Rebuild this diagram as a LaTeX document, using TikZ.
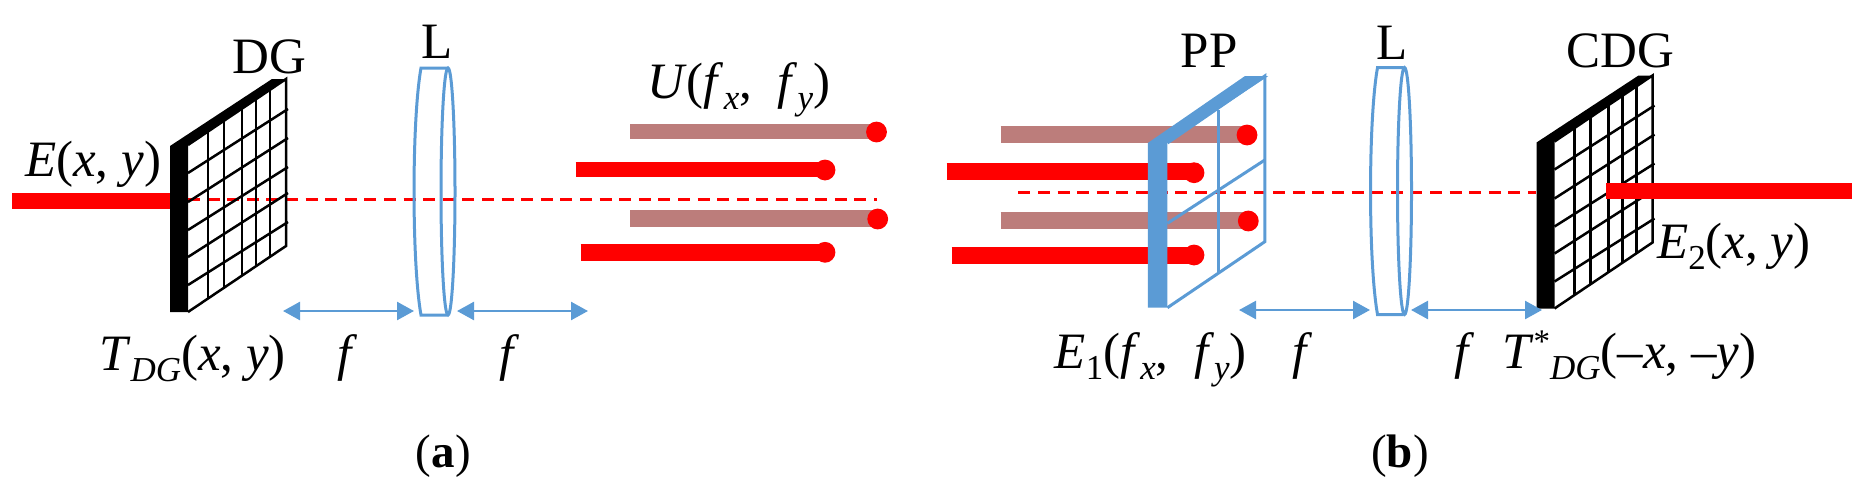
\documentclass[tikz,border=0pt]{standalone}
\usepackage{fontspec}
\setmainfont{Liberation Serif}
\usetikzlibrary{arrows.meta}
\usetikzlibrary{positioning}
\definecolor{lensblue}{HTML}{5B9BD5}
\definecolor{beamred}{HTML}{FF0000}
\definecolor{beambrown}{HTML}{BC7D7B}
\tikzset{
    lbl/.style={inner sep=0pt, anchor=base west, font=\fontsize{51}{60}\selectfont},
    caplbl/.style={inner sep=0pt, anchor=base west, font=\fontsize{47}{56}\selectfont},
    beam/.style={beamred, line width=16pt},
    ghostbeam/.style={beambrown, line width=16pt},
    axisline/.style={beamred, line width=2.5pt, dash pattern=on 12pt off 7.6pt},
    lensline/.style={lensblue, line width=3pt},
    gridline/.style={black, line width=2.5pt},
    fspan/.style={lensblue, line width=2.5pt, {Triangle[length=17pt,width=18pt]}-{Triangle[length=17pt,width=18pt]}},
}
\newcommand{\lowidx}[1]{\raisebox{-11pt}{\fontsize{35}{38}\selectfont #1}}
\newcommand{\lensbody}{%
    \draw[lensline] (447,68) -- (421,68) .. controls (411.7,120) and (411.7,263) .. (421,315) -- (447,315);
    \draw[lensline] (448,191.5) ellipse [x radius=7, y radius=123.5];
}
\newcommand{\gratingbody}{%
    \fill[black] (170,146) -- (272,79) -- (286,79) -- (188,145) -- (188,312) -- (170,312) -- cycle;
    \draw[gridline] (188,145) -- (286,79) -- (286,246) -- (188,312);
    \foreach \vx in {208,224,242,256,270} {
        \draw[gridline] (\vx,{145-(\vx-188)*0.663}) -- (\vx,{312-(\vx-188)*0.673});
    }
    \foreach \hl/\hr in {173/109,202/138,230/167,257/193,285/222} {
        \draw[gridline] (188,\hl) -- (288,\hr);
    }
}
\begin{document}
\begin{tikzpicture}[x=1pt, y=-1pt]
    \useasboundingbox (0,0) rectangle (1862,485);
    % panel a
    \draw[beam] (12,201) -- (170,201);
    \draw[axisline] (188,199.5) -- (876.5,199.5);
    \gratingbody
    \lensbody
    \draw[ghostbeam, line width=15pt] (630,131.7) -- (876,131.7);
    \fill[beamred] (876.5,132) circle (10.4);
    \draw[beam, line width=15.5pt] (575.6,169.3) -- (825,169.3);
    \fill[beamred] (825,170) circle (10.4);
    \draw[ghostbeam, line width=17pt] (630,218.7) -- (877,218.7);
    \fill[beamred] (877.7,219) circle (10.4);
    \draw[beam, line width=17pt] (580.7,252.3) -- (825,252.3);
    \fill[beamred] (825,252.3) circle (10.4);
    \coordinate (fa1) at (283,311);
    \coordinate (fa2) at (414,311);
    \coordinate (fa3) at (457,311);
    \coordinate (fa4) at (588,311);
    \draw[fspan] (fa1) -- (fa2);
    \draw[fspan] (fa3) -- (fa4);
    \node[lbl] (dgname) at (232,73) {DG};
    \node[lbl] (lensa) at (421,58) {L};
    \node[lbl] (einput) at (25,176) {\textit{E}(\textit{x}, \textit{y})};
    \node[lbl] (uspec) at (647,98) {\textit{U}(\textit{f}\lowidx{\textit{x}},\ \ \textit{f}\lowidx{\textit{y}})};
    \node[lbl] (tdg) at (99,370) {\textit{T}\lowidx{\textit{DG}}(\textit{x}, \textit{y})};
    \node[lbl] (fa) at (337,370) {\textit{f}};
    \node[lbl] (fb) at (499,370) {\textit{f}};
    \node[caplbl] (capa) at (415.7,467) {(\textbf{a})};
    % panel b
    \draw[ghostbeam, line width=16.7pt] (1000.6,134.3) -- (1247,134.3);
    \draw[beam, line width=16.7pt] (946.5,171.7) -- (1194,171.7);
    \fill[beamred] (1194,172.7) circle (10.4);
    \draw[ghostbeam, line width=16.7pt] (1000.6,220.7) -- (1248,220.7);
    \draw[beam, line width=17pt] (951.6,255) -- (1194,255);
    \fill[beamred] (1194,255) circle (10.4);
    \draw[axisline] (1018.4,192.7) -- (1536,192.7);
    \fill[beamred] (1247,135) circle (10.4);
    \fill[beamred] (1248.3,221) circle (10.4);
    \fill[lensblue] (1147.8,143) -- (1245,76) -- (1268.3,76) -- (1167.4,143) -- (1167.4,307.7) -- (1147.8,307.7) -- cycle;
    \draw[lensline] (1167.4,143) -- (1264.8,76) -- (1264.8,241.7) -- (1167.4,307.7);
    \draw[lensline] (1218.4,110) -- (1218.4,272);
    \draw[lensline] (1167.4,223.3) -- (1264.8,160);
    \begin{scope}[shift={(956.5,-0.5)}]
        \lensbody
    \end{scope}
    \begin{scope}[shift={(1366.5,-3.5)}]
        \gratingbody
    \end{scope}
    \draw[beam] (1606,191) -- (1852,191);
    \coordinate (fb1) at (1239,310);
    \coordinate (fb2) at (1370,310);
    \coordinate (fb3) at (1411,310);
    \coordinate (fb4) at (1542,310);
    \draw[fspan] (fb1) -- (fb2);
    \draw[fspan] (fb3) -- (fb4);
    \node[lbl] (ppname) at (1180.5,67) {PP};
    \node[lbl] (lensb) at (1376,59) {L};
    \node[lbl] (cdgname) at (1566,67) {CDG};
    \node[lbl] (etwo) at (1657,258) {\textit{E}\lowidx{2}(\textit{x}, \textit{y})};
    \node[lbl] (eone) at (1054.5,368) {\textit{E}\lowidx{1}(\textit{f}\lowidx{\textit{x}},\ \ \textit{f}\lowidx{\textit{y}})};
    \node[lbl] (fc) at (1292.5,368) {\textit{f}};
    \node[lbl] (fd) at (1454.5,368) {\textit{f}};
    \node[lbl] (tstar) at (1502,368) {\textit{T}\raisebox{16pt}{\fontsize{33}{36}\selectfont *}\lowidx{\textit{DG}}(--\textit{x}, --\textit{y})};
    \node[caplbl] (capb) at (1371,467) {(\textbf{b})};
\end{tikzpicture}
\end{document}
